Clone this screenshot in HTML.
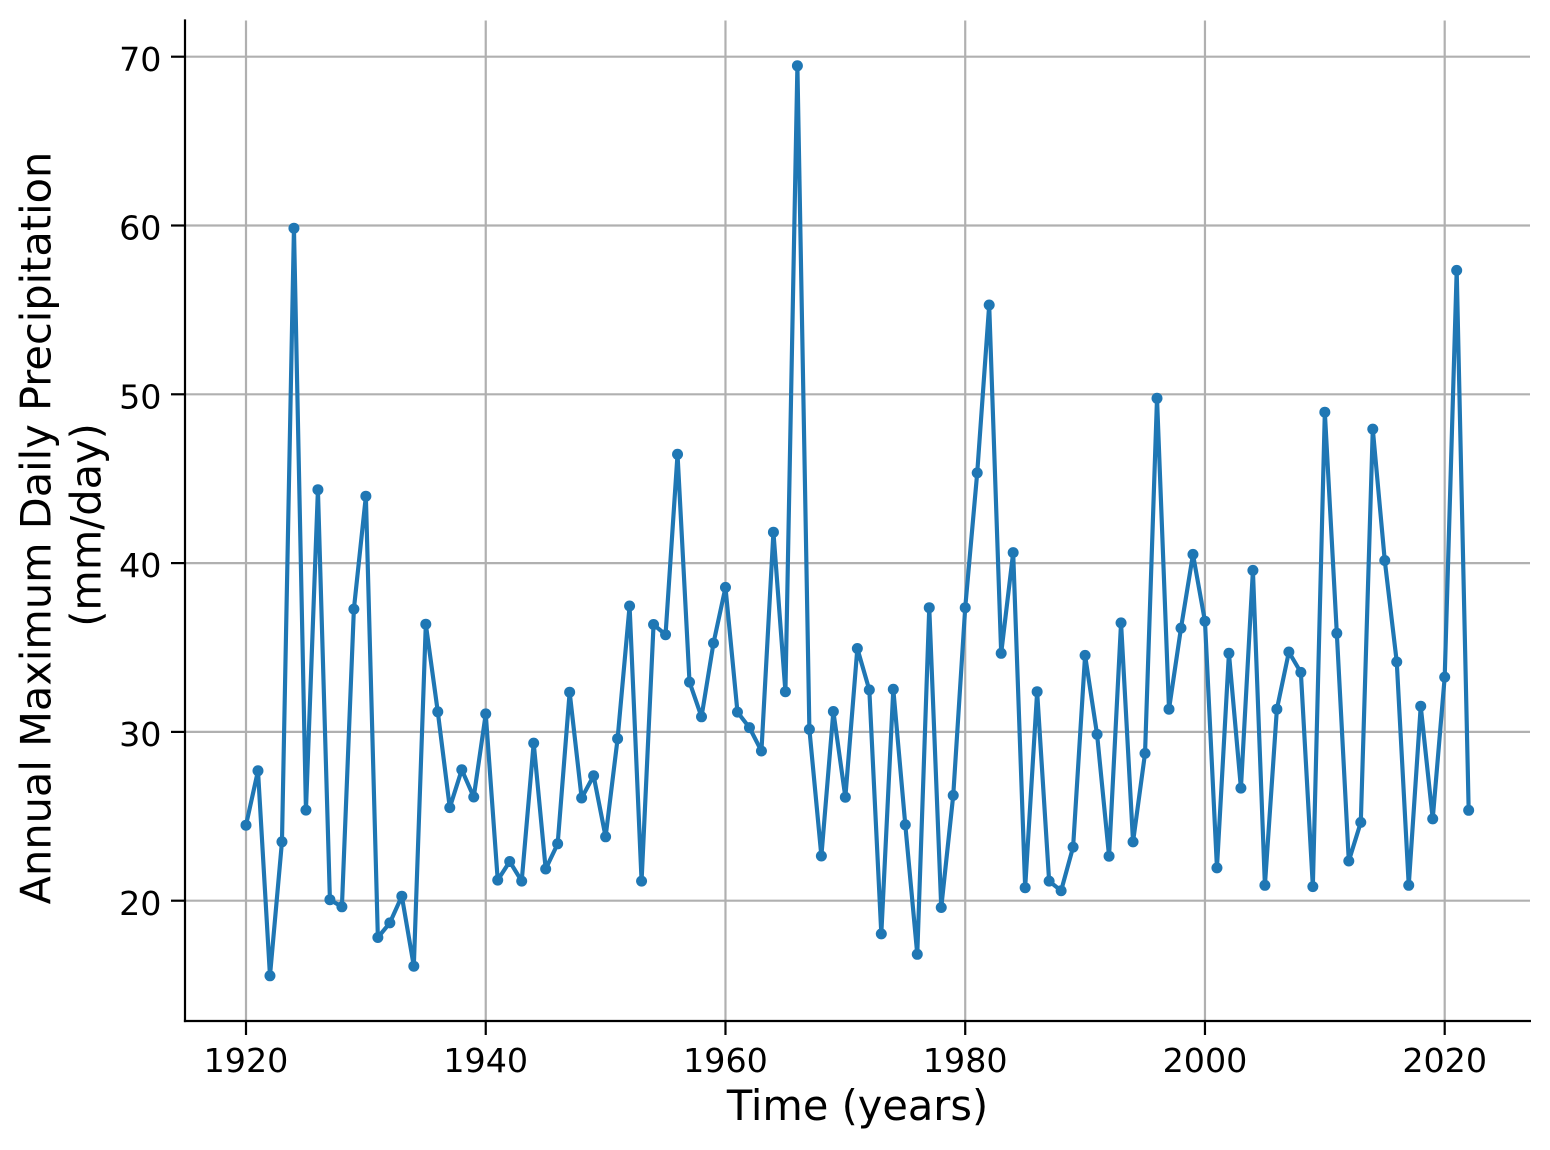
<!DOCTYPE html>
<html>
<head>
<meta charset="utf-8">
<style>
html,body{margin:0;padding:0;background:#fff;}
svg{display:block;}
text{font-family:"DejaVu Sans","Liberation Sans",sans-serif;fill:#000;}
</style>
</head>
<body>
<svg width="1550" height="1150" viewBox="0 0 1550 1150" xmlns="http://www.w3.org/2000/svg">
<rect x="0" y="0" width="1550" height="1150" fill="#fff"/>
<!-- grid -->
<g stroke="#b0b0b0" stroke-width="2.2" fill="none">
<line x1="246" y1="20.5" x2="246" y2="1021"/>
<line x1="485.74" y1="20.5" x2="485.74" y2="1021"/>
<line x1="725.48" y1="20.5" x2="725.48" y2="1021"/>
<line x1="965.22" y1="20.5" x2="965.22" y2="1021"/>
<line x1="1204.96" y1="20.5" x2="1204.96" y2="1021"/>
<line x1="1444.7" y1="20.5" x2="1444.7" y2="1021"/>
<line x1="185" y1="900.7" x2="1530" y2="900.7"/>
<line x1="185" y1="731.9" x2="1530" y2="731.9"/>
<line x1="185" y1="563.1" x2="1530" y2="563.1"/>
<line x1="185" y1="394.3" x2="1530" y2="394.3"/>
<line x1="185" y1="225.5" x2="1530" y2="225.5"/>
<line x1="185" y1="56.7" x2="1530" y2="56.7"/>
</g>
<!-- data line -->
<polyline fill="none" stroke="#1f77b4" stroke-width="4.17" stroke-linejoin="round" points="
246,825.2 257.99,770.8 269.97,975.8 281.96,841.8 293.95,228.2 305.94,810.1 317.92,489.7 329.91,899.7 341.9,906.8 353.88,609.1
365.87,496.2 377.86,937.5 389.84,922.9 401.83,896.2 413.82,966.2 425.81,624.2 437.79,711.8 449.78,807.6 461.77,769.8 473.75,797
485.74,713.9 497.73,880.1 509.71,861.5 521.7,881.1 533.69,743.1 545.68,869 557.66,843.8 569.65,692.2 581.64,798 593.62,775.8
605.61,836.8 617.6,738.7 629.58,606 641.57,881.1 653.56,624.5 665.55,634.7 677.53,454.3 689.52,682.1 701.51,716.8 713.49,643.1
725.48,587.4 737.47,712.1 749.45,727.6 761.44,751 773.43,532.2 785.42,691.7 797.4,65.8 809.39,729.4 821.38,856 833.36,711.5
845.35,797.2 857.34,648.5 869.32,689.9 881.31,933.9 893.3,689.3 905.29,824.8 917.27,954.3 929.26,607.7 941.25,907.5 953.23,795.4
965.22,607.7 977.21,472.9 989.19,305 1001.18,653.3 1013.17,552.6 1025.16,887.7 1037.14,691.7 1049.13,881.1 1061.12,890.7 1073.1,847.1
1085.09,655.4 1097.08,734.4 1109.06,856.2 1121.05,622.9 1133.04,841.9 1145.03,753.4 1157.01,398.3 1169,709.2 1180.99,628.1 1192.97,554.4
1204.96,621.2 1216.95,867.9 1228.93,653.3 1240.92,788.1 1252.91,570.4 1264.9,885.3 1276.88,709.2 1288.87,652 1300.86,672.4 1312.84,886.6
1324.83,412.2 1336.82,633.3 1348.8,861 1360.79,822.4 1372.78,429.1 1384.77,560.5 1396.75,661.9 1408.74,885.3 1420.73,706.2 1432.71,818.9
1444.7,677.1 1456.69,270.4 1468.67,810.3"/>
<!-- markers -->
<g fill="#1f77b4">
<circle cx="246" cy="825.2" r="5.5"/><circle cx="257.99" cy="770.8" r="5.5"/><circle cx="269.97" cy="975.8" r="5.5"/><circle cx="281.96" cy="841.8" r="5.5"/><circle cx="293.95" cy="228.2" r="5.5"/><circle cx="305.94" cy="810.1" r="5.5"/><circle cx="317.92" cy="489.7" r="5.5"/><circle cx="329.91" cy="899.7" r="5.5"/><circle cx="341.9" cy="906.8" r="5.5"/><circle cx="353.88" cy="609.1" r="5.5"/>
<circle cx="365.87" cy="496.2" r="5.5"/><circle cx="377.86" cy="937.5" r="5.5"/><circle cx="389.84" cy="922.9" r="5.5"/><circle cx="401.83" cy="896.2" r="5.5"/><circle cx="413.82" cy="966.2" r="5.5"/><circle cx="425.81" cy="624.2" r="5.5"/><circle cx="437.79" cy="711.8" r="5.5"/><circle cx="449.78" cy="807.6" r="5.5"/><circle cx="461.77" cy="769.8" r="5.5"/><circle cx="473.75" cy="797" r="5.5"/>
<circle cx="485.74" cy="713.9" r="5.5"/><circle cx="497.73" cy="880.1" r="5.5"/><circle cx="509.71" cy="861.5" r="5.5"/><circle cx="521.7" cy="881.1" r="5.5"/><circle cx="533.69" cy="743.1" r="5.5"/><circle cx="545.68" cy="869" r="5.5"/><circle cx="557.66" cy="843.8" r="5.5"/><circle cx="569.65" cy="692.2" r="5.5"/><circle cx="581.64" cy="798" r="5.5"/><circle cx="593.62" cy="775.8" r="5.5"/>
<circle cx="605.61" cy="836.8" r="5.5"/><circle cx="617.6" cy="738.7" r="5.5"/><circle cx="629.58" cy="606" r="5.5"/><circle cx="641.57" cy="881.1" r="5.5"/><circle cx="653.56" cy="624.5" r="5.5"/><circle cx="665.55" cy="634.7" r="5.5"/><circle cx="677.53" cy="454.3" r="5.5"/><circle cx="689.52" cy="682.1" r="5.5"/><circle cx="701.51" cy="716.8" r="5.5"/><circle cx="713.49" cy="643.1" r="5.5"/>
<circle cx="725.48" cy="587.4" r="5.5"/><circle cx="737.47" cy="712.1" r="5.5"/><circle cx="749.45" cy="727.6" r="5.5"/><circle cx="761.44" cy="751" r="5.5"/><circle cx="773.43" cy="532.2" r="5.5"/><circle cx="785.42" cy="691.7" r="5.5"/><circle cx="797.4" cy="65.8" r="5.5"/><circle cx="809.39" cy="729.4" r="5.5"/><circle cx="821.38" cy="856" r="5.5"/><circle cx="833.36" cy="711.5" r="5.5"/>
<circle cx="845.35" cy="797.2" r="5.5"/><circle cx="857.34" cy="648.5" r="5.5"/><circle cx="869.32" cy="689.9" r="5.5"/><circle cx="881.31" cy="933.9" r="5.5"/><circle cx="893.3" cy="689.3" r="5.5"/><circle cx="905.29" cy="824.8" r="5.5"/><circle cx="917.27" cy="954.3" r="5.5"/><circle cx="929.26" cy="607.7" r="5.5"/><circle cx="941.25" cy="907.5" r="5.5"/><circle cx="953.23" cy="795.4" r="5.5"/>
<circle cx="965.22" cy="607.7" r="5.5"/><circle cx="977.21" cy="472.9" r="5.5"/><circle cx="989.19" cy="305" r="5.5"/><circle cx="1001.18" cy="653.3" r="5.5"/><circle cx="1013.17" cy="552.6" r="5.5"/><circle cx="1025.16" cy="887.7" r="5.5"/><circle cx="1037.14" cy="691.7" r="5.5"/><circle cx="1049.13" cy="881.1" r="5.5"/><circle cx="1061.12" cy="890.7" r="5.5"/><circle cx="1073.1" cy="847.1" r="5.5"/>
<circle cx="1085.09" cy="655.4" r="5.5"/><circle cx="1097.08" cy="734.4" r="5.5"/><circle cx="1109.06" cy="856.2" r="5.5"/><circle cx="1121.05" cy="622.9" r="5.5"/><circle cx="1133.04" cy="841.9" r="5.5"/><circle cx="1145.03" cy="753.4" r="5.5"/><circle cx="1157.01" cy="398.3" r="5.5"/><circle cx="1169" cy="709.2" r="5.5"/><circle cx="1180.99" cy="628.1" r="5.5"/><circle cx="1192.97" cy="554.4" r="5.5"/>
<circle cx="1204.96" cy="621.2" r="5.5"/><circle cx="1216.95" cy="867.9" r="5.5"/><circle cx="1228.93" cy="653.3" r="5.5"/><circle cx="1240.92" cy="788.1" r="5.5"/><circle cx="1252.91" cy="570.4" r="5.5"/><circle cx="1264.9" cy="885.3" r="5.5"/><circle cx="1276.88" cy="709.2" r="5.5"/><circle cx="1288.87" cy="652" r="5.5"/><circle cx="1300.86" cy="672.4" r="5.5"/><circle cx="1312.84" cy="886.6" r="5.5"/>
<circle cx="1324.83" cy="412.2" r="5.5"/><circle cx="1336.82" cy="633.3" r="5.5"/><circle cx="1348.8" cy="861" r="5.5"/><circle cx="1360.79" cy="822.4" r="5.5"/><circle cx="1372.78" cy="429.1" r="5.5"/><circle cx="1384.77" cy="560.5" r="5.5"/><circle cx="1396.75" cy="661.9" r="5.5"/><circle cx="1408.74" cy="885.3" r="5.5"/><circle cx="1420.73" cy="706.2" r="5.5"/><circle cx="1432.71" cy="818.9" r="5.5"/>
<circle cx="1444.7" cy="677.1" r="5.5"/><circle cx="1456.69" cy="270.4" r="5.5"/><circle cx="1468.67" cy="810.3" r="5.5"/>
</g>
<!-- spines -->
<g stroke="#000" stroke-width="2.2" fill="none">
<line x1="185" y1="19.4" x2="185" y2="1022.1"/>
<line x1="183.9" y1="1021" x2="1531" y2="1021"/>
</g>
<!-- ticks -->
<g stroke="#000" stroke-width="2.2">
<line x1="246" y1="1021" x2="246" y2="1035"/>
<line x1="485.74" y1="1021" x2="485.74" y2="1035"/>
<line x1="725.48" y1="1021" x2="725.48" y2="1035"/>
<line x1="965.22" y1="1021" x2="965.22" y2="1035"/>
<line x1="1204.96" y1="1021" x2="1204.96" y2="1035"/>
<line x1="1444.7" y1="1021" x2="1444.7" y2="1035"/>
<line x1="171" y1="900.7" x2="185" y2="900.7"/>
<line x1="171" y1="731.9" x2="185" y2="731.9"/>
<line x1="171" y1="563.1" x2="185" y2="563.1"/>
<line x1="171" y1="394.3" x2="185" y2="394.3"/>
<line x1="171" y1="225.5" x2="185" y2="225.5"/>
<line x1="171" y1="56.7" x2="185" y2="56.7"/>
</g>
<!-- tick labels -->
<g font-size="33.3" text-anchor="middle">
<text x="246" y="1072">1920</text>
<text x="485.74" y="1072">1940</text>
<text x="725.48" y="1072">1960</text>
<text x="965.22" y="1072">1980</text>
<text x="1204.96" y="1072">2000</text>
<text x="1444.7" y="1072">2020</text>
</g>
<g font-size="33.3" text-anchor="end">
<text x="161.5" y="914.8">20</text>
<text x="161.5" y="746">30</text>
<text x="161.5" y="577.2">40</text>
<text x="161.5" y="408.4">50</text>
<text x="161.5" y="239.6">60</text>
<text x="161.5" y="70.8">70</text>
</g>
<!-- axis labels -->
<text x="857.5" y="1120" font-size="41.5" text-anchor="middle">Time (years)</text>
<text transform="translate(50.5,528) rotate(-90)" font-size="41.5" text-anchor="middle">Annual Maximum Daily Precipitation</text>
<text transform="translate(100.5,525) rotate(-90)" font-size="41.5" text-anchor="middle">(mm/day)</text>
</svg>
</body>
</html>
